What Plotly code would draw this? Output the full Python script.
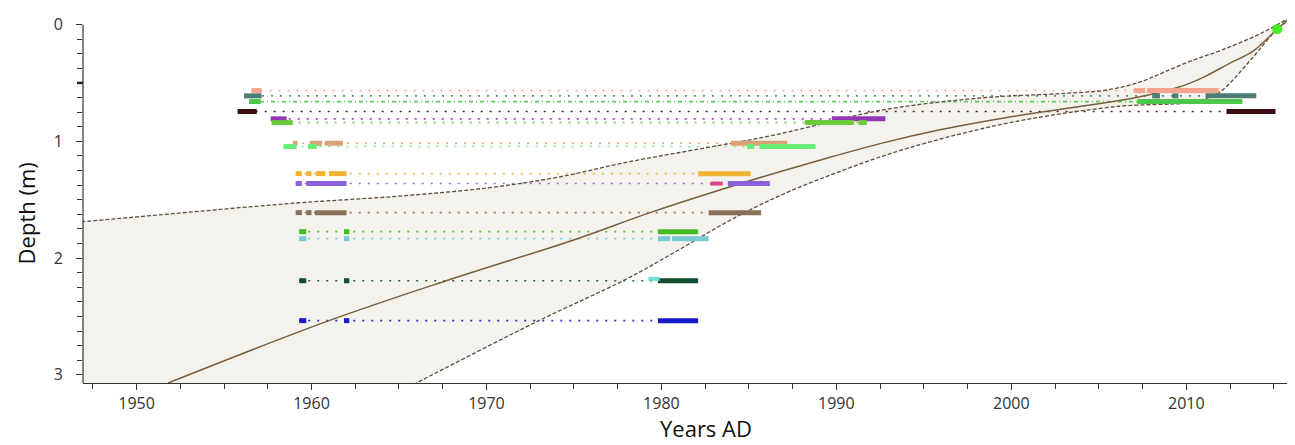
import plotly.graph_objects as go

# ---------------- data ----------------
# age-depth model: mean curve and 95% bounds (year AD, depth m)
central_years = [1951.8, 1961.0, 1967.7, 1975.2, 1979.35, 1985.0, 1989.1, 1992.5, 1996.0, 2000.0, 2004.0, 2007.0, 2009.5, 2011.0, 2012.5, 2013.8, 2015.2, 2016.4]
central_depths = [3.07, 2.536, 2.194, 1.834, 1.611, 1.34, 1.16, 1.02, 0.90, 0.79, 0.70, 0.63, 0.54, 0.45, 0.33, 0.23, 0.04, -0.12]

old_years = [1940.0, 1946.8, 1952.8, 1959.0, 1965.0, 1970.0, 1974.0, 1978.0, 1982.0, 1986.0, 1989.5, 1992.0, 1995.0, 1999.0, 2003.0, 2005.5, 2007.4, 2008.7, 2010.3, 2012.0, 2014.2, 2016.4]
old_depths = [1.77, 1.69, 1.61, 1.53, 1.47, 1.40, 1.31, 1.18, 1.07, 0.96, 0.84, 0.75, 0.68, 0.62, 0.59, 0.56, 0.49, 0.41, 0.31, 0.22, 0.08, -0.10]

young_years = [1963.1, 1966.0, 1973.0, 1978.0, 1981.0, 1984.0, 1987.0, 1990.0, 1993.0, 1997.0, 2001.0, 2006.2, 2010.1, 2011.2, 2012.0, 2013.7, 2015.2, 2016.4]
young_depths = [3.30, 3.07, 2.536, 2.18, 1.93, 1.67, 1.45, 1.27, 1.11, 0.94, 0.81, 0.70, 0.67, 0.63, 0.57, 0.30, 0.04, -0.09]

surface_year = [2015.2]
surface_depth = [0.04]

# dated levels: depth, colour, calibrated age ranges (year AD)
row_depths = [0.566, 0.611, 0.66, 0.745, 0.808, 0.84, 1.017, 1.045, 1.277, 1.362, 1.611, 1.774, 1.834, 2.194, 2.536]
row_colors = ["#f4a48c", "#4e7d78", "#4cc94c", "#3a0d10", "#9236b4", "#6ccb3a", "#d8a474",
              "#66ee77", "#f2b233", "#8c60d8", "#8b7058", "#44bb22", "#77cad2", "#124d2e", "#1a1acc"]
row_ranges = [
    [[1956.57, 1957.14], [2007.0, 2007.65], [2007.75, 2011.85]],
    [[1956.14, 1957.15], [2008.05, 2008.5], [2009.2, 2009.55], [2011.1, 2014.0]],
    [[1956.43, 1957.1], [2007.2, 2010.1], [2010.1, 2013.2]],
    [[1955.78, 1956.87], [2012.3, 2015.1]],
    [[1957.67, 1958.58], [1989.74, 1992.8]],
    [[1957.72, 1958.93], [1988.2, 1991.0], [1991.27, 1991.74]],
    [[1958.95, 1959.2], [1959.9, 1960.6], [1960.75, 1961.8], [1983.97, 1987.2]],
    [[1958.4, 1959.15], [1959.8, 1960.3], [1984.9, 1985.3], [1985.6, 1988.8]],
    [[1959.1, 1959.45], [1959.7, 1960.0], [1960.25, 1960.8], [1961.0, 1962.0], [1982.1, 1985.1]],
    [[1959.1, 1959.45], [1959.7, 1962.0], [1983.8, 1986.2]],
    [[1959.1, 1959.45], [1959.7, 1960.0], [1960.2, 1962.0], [1982.7, 1985.7]],
    [[1959.3, 1959.7], [1961.86, 1962.16], [1979.8, 1982.1]],
    [[1959.3, 1959.7], [1961.86, 1962.16], [1979.8, 1980.5], [1980.6, 1982.7]],
    [[1959.3, 1959.7], [1961.86, 1962.16], [1979.8, 1982.1]],
    [[1959.3, 1959.7], [1961.86, 1962.16], [1979.8, 1982.1]],
]
row_dash = ["2px,7px", "2px,7px", "4px,3px,1px,3px", "2px,7px", "2px,7px", "2px,7px", "2px,7px",
            "2px,7px", "2px,7px", "2px,7px", "2px,7px", "2px,7px", "2px,7px", "2px,7px", "2px,7px"]

extra_depths = [1.362, 2.178]
extra_ranges = [[1982.8, 1983.5], [1979.26, 1979.9]]
extra_colors = ["#e0428a", "#6fe0cc"]

x_ticks = [1950, 1960, 1970, 1980, 1990, 2000, 2010]
y_ticks = [0, 1, 2, 3]
x_title = "Years AD"
y_title = "Depth (m)"

# ---------------- figure ----------------
fig = go.Figure()

band_x = old_years + young_years[::-1] + [old_years[0]]
band_y = old_depths + young_depths[::-1] + [young_depths[0]]
fig.add_trace(go.Scatter(x=band_x, y=band_y, mode="lines", fill="toself",
                         fillcolor="#f4f2ed", line=dict(width=0, shape="spline", smoothing=1),
                         hoverinfo="skip", showlegend=False))

for d, c, rng, ds in zip(row_depths, row_colors, row_ranges, row_dash):
    xs = [r for seg in rng for r in seg]
    fig.add_trace(go.Scatter(x=[min(xs), max(xs)], y=[d, d], mode="lines",
                             line=dict(color=c, width=1.6, dash=ds),
                             opacity=0.9, hoverinfo="skip", showlegend=False))

fig.add_trace(go.Scatter(x=old_years, y=old_depths, mode="lines",
                         line=dict(color="#5d4e3e", width=1.3, dash="4px,2px", shape="spline", smoothing=1),
                         showlegend=False))
fig.add_trace(go.Scatter(x=young_years, y=young_depths, mode="lines",
                         line=dict(color="#5d4e3e", width=1.3, dash="4px,2px", shape="spline", smoothing=1),
                         showlegend=False))
fig.add_trace(go.Scatter(x=central_years, y=central_depths, mode="lines",
                         line=dict(color="#7a5e3e", width=1.5, shape="spline", smoothing=1),
                         showlegend=False))

for d, c, rng in zip(row_depths, row_colors, row_ranges):
    xs, ys = [], []
    for s, e in rng:
        xs += [s, e, None]
        ys += [d, d, None]
    fig.add_trace(go.Scatter(x=xs, y=ys, mode="lines", line=dict(color=c, width=5),
                             showlegend=False))
for d, c, (s, e) in zip(extra_depths, extra_colors, extra_ranges):
    fig.add_trace(go.Scatter(x=[s, e], y=[d, d], mode="lines", line=dict(color=c, width=4),
                             showlegend=False))

fig.add_trace(go.Scatter(x=surface_year, y=surface_depth, mode="markers",
                         marker=dict(color="#44ee22", size=10), showlegend=False))

# y axis line from 0 to the bottom, plus the heavier half-metre tick
fig.add_shape(type="line", xref="paper", x0=0, x1=0, yref="y", y0=0, y1=3.07,
              line=dict(color="#333333", width=1.2))
fig.add_shape(type="line", xref="paper", x0=-0.005, x1=0, yref="y", y0=0.5, y1=0.5,
              line=dict(color="#222222", width=2.5))

font = "Open Sans, Segoe UI, DejaVu Sans, sans-serif"
fig.add_annotation(text=x_title, xref="paper", yref="paper", x=0.515, y=-0.168,
                   xanchor="center", yanchor="bottom", showarrow=False,
                   font=dict(size=22, color="#111111", family=font))
fig.add_annotation(text=y_title, xref="paper", yref="paper", x=-0.047, y=0.46,
                   xanchor="center", yanchor="middle", showarrow=False, textangle=-90,
                   font=dict(size=22, color="#111111", family=font))

# page body keeps a default 8px margin, so the figure is sized to fit the window
fig.update_layout(
    width=1287, height=437,
    margin=dict(l=75, r=2, t=6, b=62),
    paper_bgcolor="white", plot_bgcolor="white",
    font=dict(family=font, color="#333333"),
    xaxis=dict(range=[1946.94, 2016.1], tickvals=x_ticks, ticks="outside", ticklen=6,
               tickcolor="#333333", showline=True, linecolor="#333333", linewidth=1.2,
               showgrid=False, zeroline=False, tickfont=dict(size=16, color="#333333"),
               ticklabelstandoff=0,
               minor=dict(dtick=2.5, ticks="outside", ticklen=5, tickcolor="#333333", showgrid=False)),
    yaxis=dict(range=[3.07, -0.09], tickvals=y_ticks, ticks="outside", ticklen=6,
               tickcolor="#333333", showline=False, showgrid=False, zeroline=False,
               tickfont=dict(size=16, color="#333333"), ticklabelstandoff=10,
               minor=dict(dtick=0.125, ticks="outside", ticklen=5, tickcolor="#333333", showgrid=False)),
)

fig.write_html("out.html")
